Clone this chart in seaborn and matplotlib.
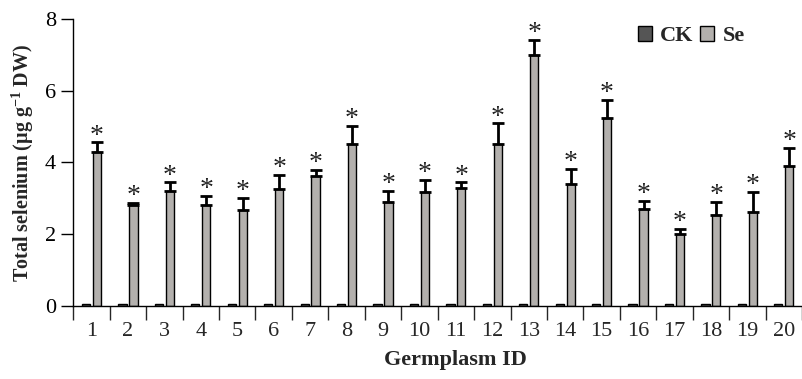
import numpy as np
import pandas as pd
import matplotlib
matplotlib.use("Agg")
import matplotlib.pyplot as plt
import seaborn as sns

# ── Data ─────────────────────────────────────────────────────────────────────
germplasm = [str(i) for i in range(1, 21)]
ck_values = [0.05, 0.04, 0.05, 0.04, 0.04, 0.04, 0.05, 0.05, 0.05, 0.05,
             0.05, 0.05, 0.06, 0.05, 0.06, 0.04, 0.04, 0.05, 0.05, 0.06]
se_values = [4.30, 2.81, 3.19, 2.81, 2.68, 3.26, 3.63, 4.51, 2.89, 3.16,
             3.29, 4.51, 6.99, 3.39, 5.23, 2.71, 1.99, 2.53, 2.61, 3.89]
se_errors = [0.26, 0.06, 0.25, 0.26, 0.32, 0.40, 0.16, 0.51, 0.31, 0.35,
             0.15, 0.58, 0.42, 0.42, 0.52, 0.21, 0.16, 0.37, 0.56, 0.52]
treatments = ["CK", "Se"]
colors = {"CK": "#555555", "Se": "#b3b0ad"}

df = pd.DataFrame({
    "Germplasm": germplasm * 2,
    "Treatment": ["CK"] * 20 + ["Se"] * 20,
    "Value": ck_values + se_values,
})

# ── Style ────────────────────────────────────────────────────────────────────
sns.set_style("ticks")
plt.rcParams["font.family"] = ["Liberation Serif", "DejaVu Serif"]
plt.rcParams["mathtext.fontset"] = "custom"
plt.rcParams["mathtext.rm"] = "Liberation Serif:bold"
plt.rcParams["mathtext.default"] = "rm"

fig = plt.figure(figsize=(8.02, 3.79), dpi=100)
ax = fig.add_axes([0.0914, 0.1934, 0.9086, 0.7566])

sns.barplot(data=df, x="Germplasm", y="Value", hue="Treatment",
            hue_order=treatments, order=germplasm, palette=colors,
            saturation=1, width=0.6, gap=0.25, edgecolor="black",
            linewidth=1, errorbar=None, ax=ax)

# error bars (upper only) + significance stars on Se bars
se_bars = ax.containers[1]
xs = [b.get_x() + b.get_width() / 2 for b in se_bars]
hs = [b.get_height() for b in se_bars]
ax.errorbar(xs, hs, yerr=[np.zeros(len(hs)), se_errors], fmt="none",
            ecolor="black", elinewidth=2, capsize=4, capthick=2, zorder=3)
for x, h, e in zip(xs, hs, se_errors):
    ax.annotate("*", (x, h + e), xytext=(0, -4.5), textcoords="offset points",
                ha="center", va="bottom", fontsize=20, color="#222222")

# axes
ax.set_ylim(0, 8)
ax.set_xlim(-0.5, 19.25)
ax.set_yticks([0, 2, 4, 6, 8])
ax.tick_params(axis="y", labelsize=16, length=9, width=1, colors="black")
ax.set_xticks(np.arange(-0.5, 20, 1.0))
ax.set_xticklabels([])
ax.set_xticks(np.arange(20), minor=True)
ax.set_xticklabels(germplasm, minor=True)
ax.tick_params(axis="x", which="major", length=10, width=1)
ax.tick_params(axis="x", which="minor", length=0, labelsize=16, pad=12)
sns.despine(ax=ax)
for s in ["left", "bottom"]:
    ax.spines[s].set_linewidth(1)
    ax.spines[s].set_color("black")

ax.set_ylabel(r"Total selenium (μg g$^{-1}$ DW)", fontsize=14.5,
              fontweight="bold", labelpad=6)
ax.set_xlabel("Germplasm ID", fontsize=16, fontweight="bold")
ax.xaxis.set_label_coords(0.524, -0.155)

leg = ax.legend(loc="center", bbox_to_anchor=(0.848, 0.94), ncol=2,
                frameon=False, handlelength=0.63, handleheight=0.63,
                handletextpad=0.36, columnspacing=0.32,
                prop={"weight": "bold", "size": 16})

fig.savefig("out.png", dpi=100)
plt.close(fig)
